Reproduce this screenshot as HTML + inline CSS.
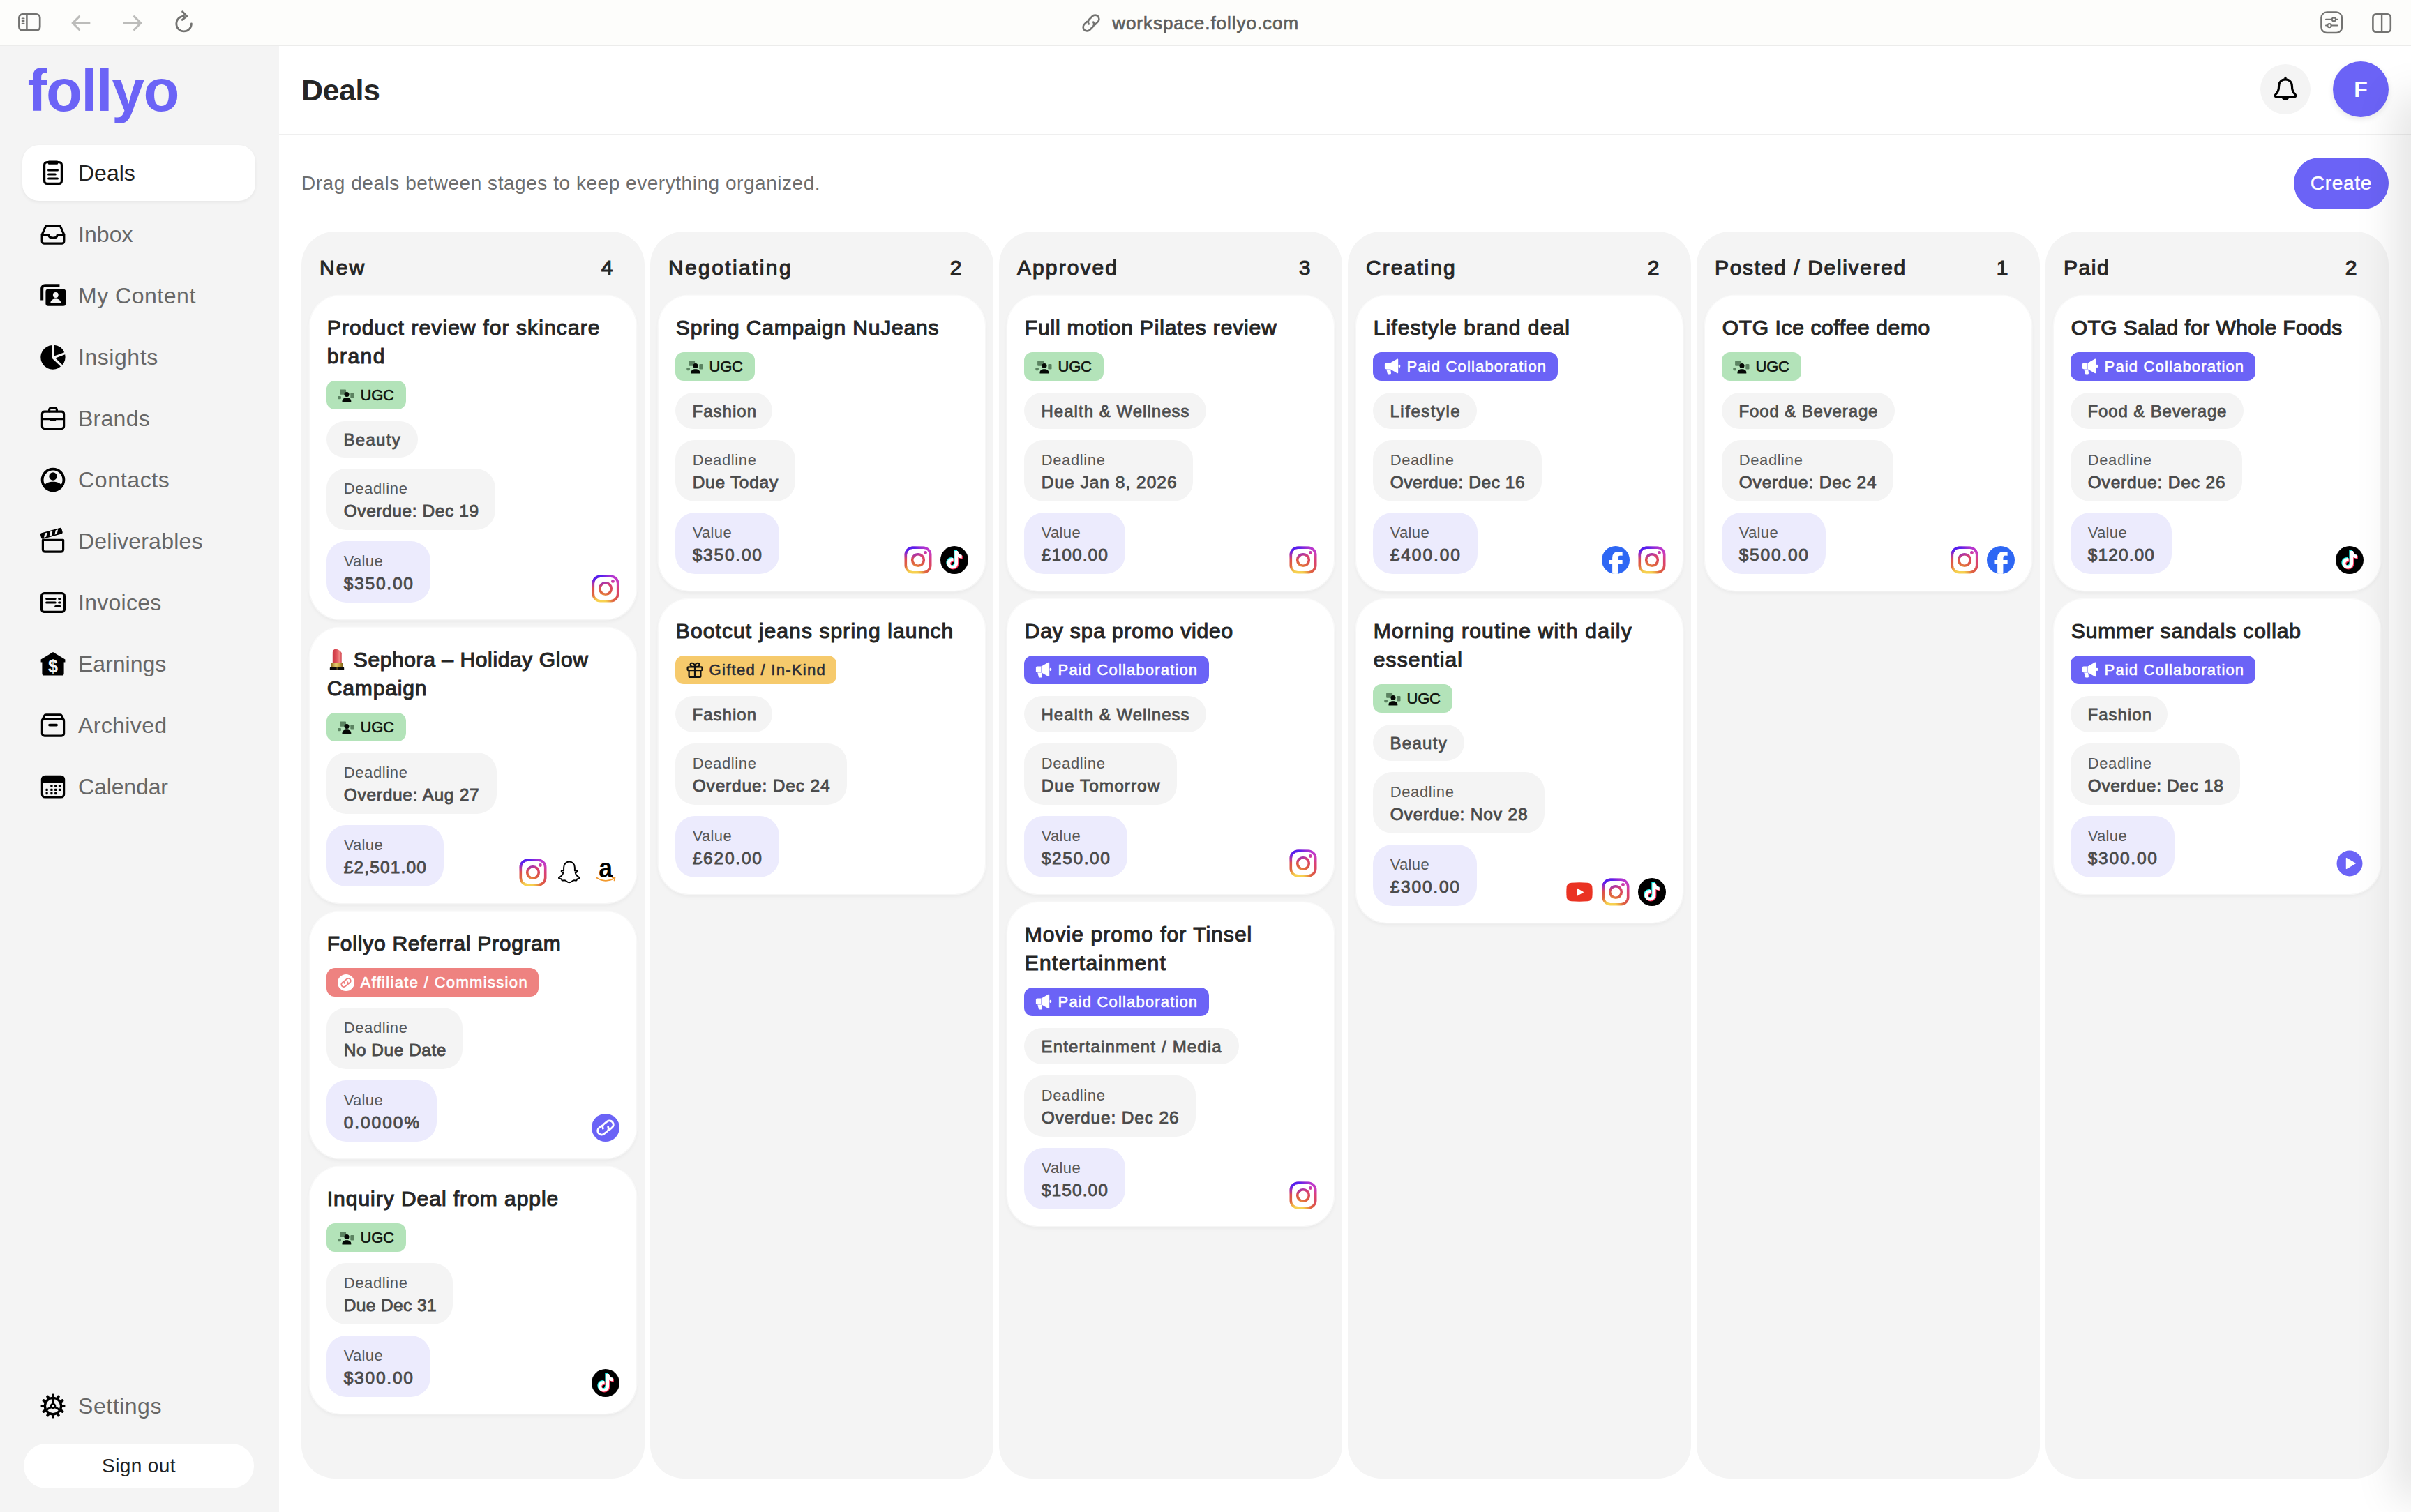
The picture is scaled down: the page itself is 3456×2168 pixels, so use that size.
<!DOCTYPE html>
<html lang="en"><head><meta charset="utf-8"><title>Deals - follyo</title>
<meta name="viewport" content="width=3456">
<style>
*{box-sizing:border-box;margin:0;padding:0}
html,body{width:3456px;height:2168px;overflow:hidden;background:#fff}
body{font-family:'Liberation Sans',sans-serif;color:#262626;position:relative;-webkit-font-smoothing:antialiased}
#root{position:absolute;left:0;top:0;width:3456px;height:2168px;overflow:hidden;background:#fff;transform-origin:0 0}
span{white-space:pre}
.abs{position:absolute}
.toolbar{position:absolute;left:0;top:0;width:3456px;height:66px;background:#fdfdfb;border-bottom:2px solid #ececeb}
.toolbar svg{position:absolute}
.url{position:absolute;left:1594.2px;top:15px;height:36px;line-height:36px;font-size:26px;color:#5e5e5c;font-weight:normal;-webkit-text-stroke:0.7px #5e5e5c}
.side{position:absolute;left:0;top:66px;width:400px;height:2102px;background:#f4f4f4}
.logo{position:absolute;left:39.5px;top:4px;height:120px;line-height:120px;font-size:85px;font-weight:bold;color:#6b63f6}
.nav{position:absolute;left:32px;width:334px;height:80px;border-radius:24px}
.nav.on{background:#fff;box-shadow:0 2px 5px rgba(0,0,0,.06)}
.nav svg{position:absolute;left:20px;top:16px}
.nav .t{position:absolute;left:80px;top:0;height:80px;line-height:80px;font-size:32px;color:#676767}
.nav.on .t{color:#222}
.signout{position:absolute;left:34px;top:2004px;width:330px;height:64px;border-radius:32px;background:#fff;text-align:center;line-height:64px;font-size:28px;color:#222}
.main{position:absolute;left:400px;top:66px;width:3056px;height:2102px;background:#fff}
.head{position:absolute;left:0;top:0;width:3056px;height:128px;border-bottom:2px solid #efefef}
.h1{position:absolute;left:32px;top:30px;height:66px;line-height:66px;font-size:43px;font-weight:bold;color:#262626}
.bellb{position:absolute;left:2840px;top:26px;width:72px;height:72px;border-radius:50%;background:#f4f4f4}
.bellb svg{position:absolute;left:16px;top:16px}
.avatar{position:absolute;left:2944px;top:22px;width:80px;height:80px;border-radius:50%;background:#6b63f6;color:#fff;text-align:center;line-height:80px;font-size:32px;font-weight:bold;box-shadow:0 3px 8px rgba(0,0,0,.09)}
.sub{position:absolute;left:32px;top:176px;height:42px;line-height:42px;font-size:28px;color:#6e6e6e}
.create{position:absolute;left:2888px;top:160px;width:136px;height:74px;border-radius:37px;background:#6b63f6;color:#fff;text-align:center;line-height:74px;font-size:28px;-webkit-text-stroke:0.4px #fff}
.col{position:absolute;top:266px;width:492px;height:1788px;background:#f4f4f4;border-radius:48px}
.ch{position:absolute;left:26px;top:31px;height:42px;line-height:42px;font-size:30px;font-weight:normal;-webkit-text-stroke:1.1px #262626;color:#262626}
.cn{position:absolute;right:26px;top:31px;width:56px;text-align:center;height:42px;line-height:42px;font-size:30px;font-weight:normal;-webkit-text-stroke:1.1px #262626;color:#262626}
.cards{position:absolute;left:12px;top:92px;width:468px}
.card{position:relative;width:468px;background:#fff;border-radius:44px;padding:24px;margin-bottom:12px;box-shadow:0 0 0 1.5px rgba(255,255,255,.55),0 3px 6px rgba(0,0,0,.055)}
.ti{font-size:30px;font-weight:normal;-webkit-text-stroke:1.1px #262626;line-height:41px;color:#262626;position:relative;top:1px;left:0.8px}
.ti div{height:41px}
.tag{margin-top:16px;height:41px;border-radius:12px;position:relative}
.tag svg{position:absolute;left:16px;top:8.5px}
.tag .t{position:absolute;left:48.6px;top:0;height:41px;line-height:42px;font-size:22px;font-weight:normal}
.pill{margin-top:17px;height:52px;border-radius:26px;background:#f4f4f4;position:relative}
.pill .t{position:absolute;left:24.5px;top:0;height:52px;line-height:53px;font-size:24px;font-weight:normal;-webkit-text-stroke:0.8px #4d4d4d;color:#4d4d4d}
.box{margin-top:16px;height:88px;border-radius:28px;background:#f4f4f4;position:relative}
.box.v{background:#ecebfd}
.box .l{position:absolute;left:24.7px;top:13px;height:32px;line-height:32px;font-size:22px;color:#575757}
.box .d{position:absolute;left:24.7px;top:44px;height:33px;line-height:33px;font-size:24.5px;font-weight:normal;-webkit-text-stroke:0.85px #4a4a4a;color:#4a4a4a}
.soc{position:absolute;right:24px;bottom:24px;height:40px;display:flex;gap:12px}
.edge{position:absolute;left:3456px;top:160px;width:30px;height:1969px;box-shadow:0 0 60px 21px rgba(0,0,0,.115);pointer-events:none}
.emo{display:inline-block;position:relative;width:38px;height:41px;vertical-align:top}
.emo svg{position:absolute;left:0;top:2px}
.emo i{opacity:0;font-style:normal;font-size:1px;position:absolute;left:0;top:0}
</style></head>
<body>
<div id="root">
<div class="toolbar"><svg width="36" height="30" viewBox="0 0 36 30" style="display:block;left:25.7px;top:19.2px"><rect x="1.4" y="1.4" width="29.8" height="23" rx="5" fill="none" stroke="#737371" stroke-width="2.7"/><path d="M12.4 1.6 v22.6" stroke="#737371" stroke-width="2.5"/><path d="M5.6 7.4 h3 M5.6 11 h3 M5.6 14.6 h3" stroke="#737371" stroke-width="1.8" stroke-linecap="round"/></svg><svg width="30" height="24" viewBox="0 0 30 24" style="display:block;left:101px;top:20.9px"><path d="M27 12 H3 M12.6 2.6 L3.2 12 l9.4 9.4" fill="none" stroke="#bcbcba" stroke-width="3" stroke-linecap="round" stroke-linejoin="round"/></svg><svg width="30" height="24" viewBox="0 0 30 24" style="display:block;left:175px;top:20.9px"><path d="M3 12 H27 M17.4 2.6 L26.8 12 l-9.4 9.4" fill="none" stroke="#bcbcba" stroke-width="3" stroke-linecap="round" stroke-linejoin="round"/></svg><svg width="30" height="32" viewBox="0 0 30 32" style="display:block;left:249.4px;top:15.4px"><path d="M14.6 8.2 a10.8 10.8 0 1 0 10.8 10.8" fill="none" stroke="#737371" stroke-width="2.8" stroke-linecap="round"/><path d="M12.6 1.8 l6.2 6.4 l-6.6 5.2" fill="none" stroke="#737371" stroke-width="2.8" stroke-linecap="round" stroke-linejoin="round"/></svg><svg width="30" height="30" viewBox="0 0 30 30" style="display:block;left:1548.5px;top:18.4px"><g fill="none" stroke="#737371" stroke-width="2.6" stroke-linecap="round" transform="rotate(-45 15 15)"><path d="M12.2 9.4 h-5.4 a5.6 5.6 0 0 0 0 11.2 h6 a5.6 5.6 0 0 0 5.5 -4.4"/><path d="M17.8 20.6 h5.4 a5.6 5.6 0 0 0 0 -11.2 h-6 a5.6 5.6 0 0 0 -5.5 4.4"/></g></svg><svg width="34" height="34" viewBox="0 0 34 34" style="display:block;left:3325.6px;top:15.6px"><rect x="1.4" y="1.4" width="29.6" height="29.6" rx="8" fill="none" stroke="#737371" stroke-width="2.4"/><g stroke="#737371" stroke-width="2" fill="#fdfdfb" stroke-linecap="round"><path d="M8 11.8 h16.4 M8 20.6 h16.4"/><circle cx="19.4" cy="11.8" r="2.6"/><circle cx="13" cy="20.6" r="2.6"/></g></svg><svg width="32" height="32" viewBox="0 0 32 32" style="display:block;left:3400px;top:18.6px"><rect x="1.4" y="1.4" width="25.4" height="25.4" rx="4.4" fill="none" stroke="#737371" stroke-width="2.6"/><path d="M14.1 1.6 v25" stroke="#737371" stroke-width="2.4"/></svg><span class="url" style="letter-spacing:0.97px;">workspace.follyo.com</span></div>
<div class="side"><div class="logo"><span style="letter-spacing:-1.75px;">follyo</span></div><div class="nav on" style="top:142px"><svg width="48" height="48" viewBox="0 0 48 48" style="display:block;"><g fill="none" stroke="#000" stroke-width="3.2" stroke-linejoin="round" stroke-linecap="round">
<rect x="11.6" y="8.6" width="24.8" height="30.8" rx="3.6"/>
<path d="M18 7.6 h12 v3.2 h-12 z" fill="#000" stroke-width="2"/>
<path d="M17.6 20 h12.8 M17.6 26 h9.6 M17.6 32 h12.8"/></g></svg><div class="t"><span>Deals</span></div></div><div class="nav" style="top:230px"><svg width="48" height="48" viewBox="0 0 48 48" style="display:block;"><g fill="none" stroke="#000" stroke-width="3.2" stroke-linejoin="round" stroke-linecap="round">
<path d="M8.2 24.4 L13 13.6 a3.2 3.2 0 0 1 2.9 -1.9 h16.2 a3.2 3.2 0 0 1 2.9 1.9 L39.8 24.4 v9.6 a3.2 3.2 0 0 1 -3.2 3.2 h-25.2 a3.2 3.2 0 0 1 -3.2 -3.2 z"/>
<path d="M8.4 24.6 h9.2 c0.6 2.8 3.2 4.6 6.4 4.6 s5.8 -1.8 6.4 -4.6 h9.2"/></g></svg><div class="t"><span style="letter-spacing:0.05px;">Inbox</span></div></div><div class="nav" style="top:318px"><svg width="48" height="48" viewBox="0 0 48 48" style="display:block;"><path d="M8.2 30.4 v-17 a4.2 4.2 0 0 1 4.2 -4.2 h21" fill="none" stroke="#000" stroke-width="4" stroke-linecap="butt"/>
<rect x="13.4" y="14.6" width="28.8" height="24.2" rx="3.6" fill="#000"/>
<circle cx="27.8" cy="23" r="3.9" fill="#f4f4f4"/>
<path d="M20.2 34.6 c0.6 -4.6 3.6 -6.2 7.6 -6.2 s7 1.6 7.6 6.2 z" fill="#f4f4f4"/></svg><div class="t"><span style="letter-spacing:0.52px;">My Content</span></div></div><div class="nav" style="top:406px"><svg width="48" height="48" viewBox="0 0 48 48" style="display:block;"><path d="M22.4 7 a17.4 17.4 0 1 0 12.6 30.6 L22.4 25.4 z" fill="#000"/>
<path d="M25.6 6.8 a17.6 17.6 0 0 1 14.6 10.4 L25.6 22.6 z" fill="#000"/>
<path d="M41.2 20.2 a17.6 17.6 0 0 1 -3.8 15 L27.4 25.4 z" fill="#000"/></svg><div class="t"><span style="letter-spacing:0.55px;">Insights</span></div></div><div class="nav" style="top:494px"><svg width="48" height="48" viewBox="0 0 48 48" style="display:block;"><g fill="none" stroke="#000" stroke-width="3.2" stroke-linejoin="round" stroke-linecap="round">
<rect x="8.4" y="14.2" width="31.2" height="24.4" rx="3.4"/>
<path d="M18.6 13.8 v-2.2 a2.8 2.8 0 0 1 2.8 -2.8 h5.2 a2.8 2.8 0 0 1 2.8 2.8 v2.2"/>
<path d="M8.6 24.8 h30.8" stroke-width="2.8"/>
<path d="M21.4 26 h5.2" stroke-width="3.4"/></g></svg><div class="t"><span style="letter-spacing:0.26px;">Brands</span></div></div><div class="nav" style="top:582px"><svg width="48" height="48" viewBox="0 0 48 48" style="display:block;"><circle cx="24" cy="24" r="15.4" fill="none" stroke="#000" stroke-width="3.8"/>
<circle cx="24" cy="19" r="5.7" fill="#000"/>
<path d="M11.4 32.4 c2.4 -4 7 -5.6 12.6 -5.6 s10.2 1.6 12.6 5.6 a15.6 15.6 0 0 1 -25.2 0 z" fill="#000"/></svg><div class="t"><span style="letter-spacing:0.65px;">Contacts</span></div></div><div class="nav" style="top:670px"><svg width="48" height="48" viewBox="0 0 48 48" style="display:block;"><g fill="none" stroke="#000" stroke-width="3.2" stroke-linejoin="round" stroke-linecap="round">
<path d="M9.4 22.4 h29.2 v13.6 a3.2 3.2 0 0 1 -3.2 3.2 h-22.8 a3.2 3.2 0 0 1 -3.2 -3.2 z"/></g>
<g transform="rotate(-15.5 8.6 20.6)"><rect x="7.6" y="12.2" width="31.6" height="8.8" rx="2.2" fill="#000"/>
<path d="M14.4 13.8 l-3 5.6 h3.4 l3 -5.6 z M22.4 13.8 l-3 5.6 h3.4 l3 -5.6 z M30.4 13.8 l-3 5.6 h3.4 l3 -5.6 z" fill="#f4f4f4"/></g></svg><div class="t"><span style="letter-spacing:0.22px;">Deliverables</span></div></div><div class="nav" style="top:758px"><svg width="48" height="48" viewBox="0 0 48 48" style="display:block;"><g fill="none" stroke="#000" stroke-width="3.2" stroke-linejoin="round" stroke-linecap="round">
<rect x="7.6" y="10.6" width="32.8" height="26.8" rx="3.6"/>
<path d="M14.6 18.6 h12.6 M14.6 24 h12.6 M32.6 18.6 h1.6 M32.6 24 h1.6 M27.6 29.6 h6.6" stroke-width="3"/></g></svg><div class="t"><span style="letter-spacing:0.26px;">Invoices</span></div></div><div class="nav" style="top:846px"><svg width="48" height="48" viewBox="0 0 48 48" style="display:block;"><path d="M6.6 17.6 L24 7 L41.4 17.6 v4 h-1.8 v16.2 a2.8 2.8 0 0 1 -2.8 2.8 h-25.6 a2.8 2.8 0 0 1 -2.8 -2.8 v-16.2 h-1.8 z" fill="#000"/>
<text x="24" y="36.4" text-anchor="middle" font-family="'Liberation Sans',sans-serif" font-weight="bold" font-size="25" fill="#f4f4f4">$</text></svg><div class="t"><span style="letter-spacing:-0.01px;">Earnings</span></div></div><div class="nav" style="top:934px"><svg width="48" height="48" viewBox="0 0 48 48" style="display:block;"><g fill="none" stroke="#000" stroke-width="3.2" stroke-linejoin="round" stroke-linecap="round">
<rect x="8.4" y="14.6" width="31.2" height="24.6" rx="3.4"/>
<path d="M8.6 16.4 L11.6 10.2 a2.6 2.6 0 0 1 2.4 -1.4 h20 a2.6 2.6 0 0 1 2.4 1.4 L39.4 16.4" />
<path d="M19 23.6 h10" stroke-width="3.8"/></g></svg><div class="t"><span style="letter-spacing:0.37px;">Archived</span></div></div><div class="nav" style="top:1022px"><svg width="48" height="48" viewBox="0 0 48 48" style="display:block;"><rect x="8.4" y="9.4" width="31.2" height="29.6" rx="4" fill="none" stroke="#000" stroke-width="3.2"/>
<path d="M8.4 18.6 v-5.2 a4 4 0 0 1 4 -4 h23.2 a4 4 0 0 1 4 4 v5.2 z" fill="#000"/>
<g fill="#000">
<rect x="20.3" y="21.6" width="3.2" height="3.2" rx="0.6"/><rect x="26.1" y="21.6" width="3.2" height="3.2" rx="0.6"/><rect x="31.9" y="21.6" width="3.2" height="3.2" rx="0.6"/>
<rect x="13.5" y="26.8" width="3.2" height="3.2" rx="0.6"/><rect x="20.3" y="26.8" width="3.2" height="3.2" rx="0.6"/><rect x="26.1" y="26.8" width="3.2" height="3.2" rx="0.6"/><rect x="31.9" y="26.8" width="3.2" height="3.2" rx="0.6"/>
<rect x="13.5" y="32" width="3.2" height="3.2" rx="0.6"/><rect x="20.3" y="32" width="3.2" height="3.2" rx="0.6"/><rect x="26.1" y="32" width="3.2" height="3.2" rx="0.6"/>
</g></svg><div class="t"><span style="letter-spacing:-0.13px;">Calendar</span></div></div><div class="nav" style="top:1910px"><svg width="48" height="48" viewBox="0 0 48 48" style="display:block;"><rect x="22" y="6.6" width="4" height="5.4" rx="1.6" fill="#000" transform="rotate(0 24 24)"/><rect x="22" y="6.6" width="4" height="5.4" rx="1.6" fill="#000" transform="rotate(30 24 24)"/><rect x="22" y="6.6" width="4" height="5.4" rx="1.6" fill="#000" transform="rotate(60 24 24)"/><rect x="22" y="6.6" width="4" height="5.4" rx="1.6" fill="#000" transform="rotate(90 24 24)"/><rect x="22" y="6.6" width="4" height="5.4" rx="1.6" fill="#000" transform="rotate(120 24 24)"/><rect x="22" y="6.6" width="4" height="5.4" rx="1.6" fill="#000" transform="rotate(150 24 24)"/><rect x="22" y="6.6" width="4" height="5.4" rx="1.6" fill="#000" transform="rotate(180 24 24)"/><rect x="22" y="6.6" width="4" height="5.4" rx="1.6" fill="#000" transform="rotate(210 24 24)"/><rect x="22" y="6.6" width="4" height="5.4" rx="1.6" fill="#000" transform="rotate(240 24 24)"/><rect x="22" y="6.6" width="4" height="5.4" rx="1.6" fill="#000" transform="rotate(270 24 24)"/><rect x="22" y="6.6" width="4" height="5.4" rx="1.6" fill="#000" transform="rotate(300 24 24)"/><rect x="22" y="6.6" width="4" height="5.4" rx="1.6" fill="#000" transform="rotate(330 24 24)"/>
<circle cx="24" cy="24" r="11.6" fill="none" stroke="#000" stroke-width="3.4"/>
<circle cx="24" cy="24" r="3" fill="none" stroke="#000" stroke-width="2.6"/>
<g stroke="#000" stroke-width="3" stroke-linecap="round"><path d="M24 12.6 V21"/><path d="M33.9 29.7 L26.6 25.5"/><path d="M14.1 29.7 L21.4 25.5"/></g></svg><div class="t"><span style="letter-spacing:0.54px;">Settings</span></div></div><div class="signout"><span style="letter-spacing:0.38px;">Sign out</span></div></div>
<div class="main"><div class="head"><div class="h1"><span style="letter-spacing:-0.46px;">Deals</span></div><div class="bellb"><svg width="40" height="40" viewBox="0 0 40 40" style="display:block;"><g fill="none" stroke="#000" stroke-width="3.2" stroke-linejoin="round" stroke-linecap="round">
<path d="M20 5.8 c-5.6 0 -9.4 4 -9.4 9.6 c0 5.4 -1.2 9 -4.8 12.2 c-1.3 1.2 -0.8 3 1 3 h26.4 c1.8 0 2.3 -1.8 1 -3 c-3.6 -3.2 -4.8 -6.8 -4.8 -12.2 c0 -5.6 -3.8 -9.6 -9.4 -9.6 z"/>
<path d="M16.2 31.4 a3.9 3.9 0 0 0 7.6 0"/>
<path d="M20 3.4 v2.2"/></g></svg></div><div class="avatar">F</div></div><div class="sub"><span style="letter-spacing:0.54px;">Drag deals between stages to keep everything organized.</span></div><div class="create"><span style="letter-spacing:0.71px;">Create</span></div><div class="col" style="left:32px"><div class="ch"><span style="letter-spacing:2.03px;">New</span></div><div class="cn">4</div><div class="cards"><div class="card"><div class="ti"><div><span style="letter-spacing:1.11px;">Product review for skincare</span></div><div><span style="letter-spacing:1.46px;">brand</span></div></div><div class="tag" style="width:114px;background:#b3e3b9;color:#101410"><svg width="24" height="24" viewBox="0 0 24 24" style="display:block;"><rect x="3.1" y="3.5" width="9" height="7.2" rx="1.2" fill="#5b8361"/><rect x="18.3" y="7.9" width="5.2" height="7.5" rx="1.2" fill="#5b8361"/><rect x="0.3" y="12.9" width="4.6" height="4.3" rx="1.1" fill="#5b8361"/><circle cx="13" cy="10.4" r="3.5" fill="#050805"/><path d="M6.5 21.6 v-1.4 c0 -3.2 2.6 -4.9 6.4 -4.9 s6.4 1.7 6.4 4.9 v1.4 z" fill="#050805"/></svg><div class="t"><span style="letter-spacing:-0.30px;-webkit-text-stroke:0.6px #101410">UGC</span></div></div><div class="pill" style="width:131px"><div class="t"><span style="letter-spacing:1.30px;">Beauty</span></div></div><div class="box" style="width:242px"><div class="l"><span style="letter-spacing:0.63px;">Deadline</span></div><div class="d"><span style="letter-spacing:0.58px;">Overdue: Dec 19</span></div></div><div class="box v" style="width:149px"><div class="l"><span style="letter-spacing:0.33px;">Value</span></div><div class="d"><span style="letter-spacing:1.79px;">$350.00</span></div></div><div class="soc"><svg width="40" height="40" viewBox="0 0 40 40" style="display:block;"><defs><radialGradient id="iga1" gradientUnits="userSpaceOnUse" cx="13" cy="44" r="46"><stop offset="0" stop-color="#ffd84f"/><stop offset="0.2" stop-color="#f5cf50"/><stop offset="0.29" stop-color="#eeaa45"/><stop offset="0.4" stop-color="#e0683f"/><stop offset="0.53" stop-color="#dc5548"/><stop offset="0.67" stop-color="#da4468"/><stop offset="0.77" stop-color="#d8407e"/><stop offset="0.86" stop-color="#cf3cae"/><stop offset="0.98" stop-color="#bf38cc"/></radialGradient><radialGradient id="igb1" gradientUnits="userSpaceOnUse" cx="7" cy="2" r="28" gradientTransform="translate(7 2) scale(1 0.62) translate(-7 -2)"><stop offset="0" stop-color="#4f1ff0"/><stop offset="0.3" stop-color="#5a20ee"/><stop offset="1" stop-color="#8a2ae2" stop-opacity="0"/></radialGradient></defs><rect x="2.3" y="2.3" width="35.4" height="35.4" rx="10.2" fill="none" stroke="url(#iga1)" stroke-width="3.6"/><circle cx="20" cy="20" r="8.3" fill="none" stroke="url(#iga1)" stroke-width="3.6"/><circle cx="30.5" cy="9.5" r="2.4" fill="url(#iga1)"/><rect x="2.3" y="2.3" width="35.4" height="35.4" rx="10.2" fill="none" stroke="url(#igb1)" stroke-width="3.6"/><circle cx="20" cy="20" r="8.3" fill="none" stroke="url(#igb1)" stroke-width="3.6"/><circle cx="30.5" cy="9.5" r="2.4" fill="url(#igb1)"/></svg></div></div><div class="card"><div class="ti"><div><span class="emo"><svg width="30" height="36" viewBox="0 0 30 36" style="display:block;"><defs><linearGradient id="lpr" x1="0" x2="1" y1="0" y2="0"><stop offset="0" stop-color="#c9323f"/><stop offset="0.45" stop-color="#e0545c"/><stop offset="0.78" stop-color="#f08a86"/><stop offset="1" stop-color="#cf3b47"/></linearGradient>
<linearGradient id="lpg" x1="0" x2="1" y1="0" y2="0"><stop offset="0" stop-color="#8a6a1c"/><stop offset="0.4" stop-color="#e8cf74"/><stop offset="0.7" stop-color="#c9a63e"/><stop offset="1" stop-color="#7d5f17"/></linearGradient></defs>
<path d="M7.8 24.2 V8.4 c0 -3.2 2.2 -4.8 5 -4.6 c3.6 0.4 7.9 3.4 7.9 6.4 V24.2 z" fill="url(#lpr)"/>
<rect x="5.8" y="23.8" width="16.4" height="5.8" rx="0.8" fill="url(#lpg)"/>
<path d="M3.8 32.9 v-2.2 c0 -0.9 0.7 -1.5 1.6 -1.5 h17.2 c0.9 0 1.6 0.6 1.6 1.5 v2.2 z" fill="#0c0c0c"/>
<rect x="13.6" y="29.2" width="1" height="3.7" fill="#c9a63e" opacity="0.7"/></svg><i>💄</i></span><span style="letter-spacing:0.60px;">Sephora – Holiday Glow</span></div><div><span style="letter-spacing:0.83px;">Campaign</span></div></div><div class="tag" style="width:114px;background:#b3e3b9;color:#101410"><svg width="24" height="24" viewBox="0 0 24 24" style="display:block;"><rect x="3.1" y="3.5" width="9" height="7.2" rx="1.2" fill="#5b8361"/><rect x="18.3" y="7.9" width="5.2" height="7.5" rx="1.2" fill="#5b8361"/><rect x="0.3" y="12.9" width="4.6" height="4.3" rx="1.1" fill="#5b8361"/><circle cx="13" cy="10.4" r="3.5" fill="#050805"/><path d="M6.5 21.6 v-1.4 c0 -3.2 2.6 -4.9 6.4 -4.9 s6.4 1.7 6.4 4.9 v1.4 z" fill="#050805"/></svg><div class="t"><span style="letter-spacing:-0.30px;-webkit-text-stroke:0.6px #101410">UGC</span></div></div><div class="box" style="width:244px"><div class="l"><span style="letter-spacing:0.63px;">Deadline</span></div><div class="d"><span style="letter-spacing:0.72px;">Overdue: Aug 27</span></div></div><div class="box v" style="width:168px"><div class="l"><span style="letter-spacing:0.33px;">Value</span></div><div class="d"><span style="letter-spacing:1.16px;">£2,501.00</span></div></div><div class="soc"><svg width="40" height="40" viewBox="0 0 40 40" style="display:block;"><defs><radialGradient id="iga2" gradientUnits="userSpaceOnUse" cx="13" cy="44" r="46"><stop offset="0" stop-color="#ffd84f"/><stop offset="0.2" stop-color="#f5cf50"/><stop offset="0.29" stop-color="#eeaa45"/><stop offset="0.4" stop-color="#e0683f"/><stop offset="0.53" stop-color="#dc5548"/><stop offset="0.67" stop-color="#da4468"/><stop offset="0.77" stop-color="#d8407e"/><stop offset="0.86" stop-color="#cf3cae"/><stop offset="0.98" stop-color="#bf38cc"/></radialGradient><radialGradient id="igb2" gradientUnits="userSpaceOnUse" cx="7" cy="2" r="28" gradientTransform="translate(7 2) scale(1 0.62) translate(-7 -2)"><stop offset="0" stop-color="#4f1ff0"/><stop offset="0.3" stop-color="#5a20ee"/><stop offset="1" stop-color="#8a2ae2" stop-opacity="0"/></radialGradient></defs><rect x="2.3" y="2.3" width="35.4" height="35.4" rx="10.2" fill="none" stroke="url(#iga2)" stroke-width="3.6"/><circle cx="20" cy="20" r="8.3" fill="none" stroke="url(#iga2)" stroke-width="3.6"/><circle cx="30.5" cy="9.5" r="2.4" fill="url(#iga2)"/><rect x="2.3" y="2.3" width="35.4" height="35.4" rx="10.2" fill="none" stroke="url(#igb2)" stroke-width="3.6"/><circle cx="20" cy="20" r="8.3" fill="none" stroke="url(#igb2)" stroke-width="3.6"/><circle cx="30.5" cy="9.5" r="2.4" fill="url(#igb2)"/></svg><svg width="40" height="40" viewBox="0 0 40 40" style="display:block;"><g transform="translate(20 20.3) scale(1.04 1.06) translate(-20 -20)"><path d="M20 5.2 c4.6 0 7.6 3.3 7.6 7.8 v4.2 c0.9 0.5 2.1 -0.5 3.0 0.2 c0.9 0.8 -0.2 2.0 -2.2 2.9 c0.7 2.7 2.6 4.9 5.6 6.1 c0.6 0.3 0.6 1.0 0 1.3 c-1.0 0.5 -2.3 0.7 -3.2 0.9 c-0.4 0.6 -0.2 1.5 -0.9 1.9 c-1.1 0.3 -2.5 -0.5 -4.2 0.0 c-1.6 0.6 -3.0 2.7 -5.7 2.7 c-2.7 0 -4.1 -2.1 -5.7 -2.7 c-1.7 -0.5 -3.1 0.3 -4.2 0.0 c-0.7 -0.4 -0.5 -1.3 -0.9 -1.9 c-0.9 -0.2 -2.2 -0.4 -3.2 -0.9 c-0.6 -0.3 -0.6 -1.0 0 -1.3 c3.0 -1.2 4.9 -3.4 5.6 -6.1 c-2.0 -0.9 -3.1 -2.1 -2.2 -2.9 c0.9 -0.7 2.1 0.3 3.0 -0.2 v-4.2 c0 -4.5 3.0 -7.8 7.6 -7.8 z" fill="#fff" stroke="#000" stroke-width="1.9" stroke-linejoin="round"/></g></svg><svg width="40" height="40" viewBox="0 0 40 40" style="display:block;"><text x="0" y="0" transform="translate(10.2 26.8) scale(0.9 1)" font-family="'Liberation Sans',sans-serif" font-weight="bold" font-size="39.5" fill="#000">a</text><path d="M7.2 27.6 c8 5.4 17.6 5.4 25 1" fill="none" stroke="#f29a2e" stroke-width="1.8" stroke-linecap="round"/><path d="M29.6 27.3 l4 0.3 l-1.2 3.8" fill="none" stroke="#f29a2e" stroke-width="1.6" stroke-linecap="round" stroke-linejoin="round"/></svg></div></div><div class="card"><div class="ti"><div><span style="letter-spacing:0.75px;">Follyo Referral Program</span></div></div><div class="tag" style="width:304px;background:#ee8280;color:#ffffff"><svg width="24" height="24" viewBox="0 0 24 24" style="display:block;"><circle cx="12" cy="12" r="12" fill="#fff"/><g fill="none" stroke="#ee8280" stroke-width="1.9" stroke-linecap="round" transform="rotate(-38 12 12)"><path d="M10.4 8.6 h-2.6 a3.4 3.4 0 0 0 0 6.8 h3.2 a3.4 3.4 0 0 0 3.3 -2.6"/><path d="M13.6 15.4 h2.6 a3.4 3.4 0 0 0 0 -6.8 h-3.2 a3.4 3.4 0 0 0 -3.3 2.6"/></g></svg><div class="t"><span style="letter-spacing:1.33px;-webkit-text-stroke:0.6px #ffffff">Affiliate / Commission</span></div></div><div class="box" style="width:194.5px"><div class="l"><span style="letter-spacing:0.63px;">Deadline</span></div><div class="d"><span style="letter-spacing:0.51px;">No Due Date</span></div></div><div class="box v" style="width:158px"><div class="l"><span style="letter-spacing:0.33px;">Value</span></div><div class="d"><span style="letter-spacing:1.95px;">0.0000%</span></div></div><div class="soc"><svg width="40" height="40" viewBox="0 0 40 40" style="display:block;"><circle cx="20" cy="20" r="20" fill="#6b63f6"/><g fill="none" stroke="#fff" stroke-width="2.8" stroke-linecap="round" transform="rotate(-38 20 20)"><path d="M17.4 14.4 h-4.6 a5.6 5.6 0 0 0 0 11.2 h5.4 a5.6 5.6 0 0 0 5.4 -4.2"/><path d="M22.6 25.6 h4.6 a5.6 5.6 0 0 0 0 -11.2 h-5.4 a5.6 5.6 0 0 0 -5.4 4.2"/></g></svg></div></div><div class="card"><div class="ti"><div><span style="letter-spacing:0.97px;">Inquiry Deal from apple</span></div></div><div class="tag" style="width:114px;background:#b3e3b9;color:#101410"><svg width="24" height="24" viewBox="0 0 24 24" style="display:block;"><rect x="3.1" y="3.5" width="9" height="7.2" rx="1.2" fill="#5b8361"/><rect x="18.3" y="7.9" width="5.2" height="7.5" rx="1.2" fill="#5b8361"/><rect x="0.3" y="12.9" width="4.6" height="4.3" rx="1.1" fill="#5b8361"/><circle cx="13" cy="10.4" r="3.5" fill="#050805"/><path d="M6.5 21.6 v-1.4 c0 -3.2 2.6 -4.9 6.4 -4.9 s6.4 1.7 6.4 4.9 v1.4 z" fill="#050805"/></svg><div class="t"><span style="letter-spacing:-0.30px;-webkit-text-stroke:0.6px #101410">UGC</span></div></div><div class="box" style="width:180.6px"><div class="l"><span style="letter-spacing:0.63px;">Deadline</span></div><div class="d"><span style="letter-spacing:0.39px;">Due Dec 31</span></div></div><div class="box v" style="width:149px"><div class="l"><span style="letter-spacing:0.33px;">Value</span></div><div class="d"><span style="letter-spacing:1.79px;">$300.00</span></div></div><div class="soc"><svg width="40" height="40" viewBox="0 0 40 40" style="display:block;"><circle cx="20" cy="20" r="20" fill="#000"/><g transform="translate(20.1 19.7) scale(1.14) translate(-21.3 -20.4)"><path d="M21.6 9.2 h4.1 c0.3 3.0 2.0 4.9 4.9 5.2 v4.0 c-1.8 0 -3.4 -0.5 -4.8 -1.5 v7.6 c0 4.3 -3.1 7.1 -6.9 7.1 c-3.9 0 -6.9 -3.0 -6.9 -6.8 c0 -4.2 3.6 -7.3 7.9 -6.7 v4.2 c-2.0 -0.6 -3.8 0.7 -3.8 2.6 c0 1.6 1.2 2.8 2.8 2.8 c1.7 0 2.8 -1.2 2.8 -3.2 z" fill="#25f4ee" transform="translate(-1.0,-0.85)"/><path d="M21.6 9.2 h4.1 c0.3 3.0 2.0 4.9 4.9 5.2 v4.0 c-1.8 0 -3.4 -0.5 -4.8 -1.5 v7.6 c0 4.3 -3.1 7.1 -6.9 7.1 c-3.9 0 -6.9 -3.0 -6.9 -6.8 c0 -4.2 3.6 -7.3 7.9 -6.7 v4.2 c-2.0 -0.6 -3.8 0.7 -3.8 2.6 c0 1.6 1.2 2.8 2.8 2.8 c1.7 0 2.8 -1.2 2.8 -3.2 z" fill="#fe2c55" transform="translate(1.0,0.85)"/><path d="M21.6 9.2 h4.1 c0.3 3.0 2.0 4.9 4.9 5.2 v4.0 c-1.8 0 -3.4 -0.5 -4.8 -1.5 v7.6 c0 4.3 -3.1 7.1 -6.9 7.1 c-3.9 0 -6.9 -3.0 -6.9 -6.8 c0 -4.2 3.6 -7.3 7.9 -6.7 v4.2 c-2.0 -0.6 -3.8 0.7 -3.8 2.6 c0 1.6 1.2 2.8 2.8 2.8 c1.7 0 2.8 -1.2 2.8 -3.2 z" fill="#fff"/></g></svg></div></div></div></div><div class="col" style="left:532px"><div class="ch"><span style="letter-spacing:2.38px;">Negotiating</span></div><div class="cn">2</div><div class="cards"><div class="card"><div class="ti"><div><span style="letter-spacing:0.83px;">Spring Campaign NuJeans</span></div></div><div class="tag" style="width:114px;background:#b3e3b9;color:#101410"><svg width="24" height="24" viewBox="0 0 24 24" style="display:block;"><rect x="3.1" y="3.5" width="9" height="7.2" rx="1.2" fill="#5b8361"/><rect x="18.3" y="7.9" width="5.2" height="7.5" rx="1.2" fill="#5b8361"/><rect x="0.3" y="12.9" width="4.6" height="4.3" rx="1.1" fill="#5b8361"/><circle cx="13" cy="10.4" r="3.5" fill="#050805"/><path d="M6.5 21.6 v-1.4 c0 -3.2 2.6 -4.9 6.4 -4.9 s6.4 1.7 6.4 4.9 v1.4 z" fill="#050805"/></svg><div class="t"><span style="letter-spacing:-0.30px;-webkit-text-stroke:0.6px #101410">UGC</span></div></div><div class="pill" style="width:139px"><div class="t"><span style="letter-spacing:1.03px;">Fashion</span></div></div><div class="box" style="width:172px"><div class="l"><span style="letter-spacing:0.63px;">Deadline</span></div><div class="d"><span style="letter-spacing:0.72px;">Due Today</span></div></div><div class="box v" style="width:149px"><div class="l"><span style="letter-spacing:0.33px;">Value</span></div><div class="d"><span style="letter-spacing:1.79px;">$350.00</span></div></div><div class="soc"><svg width="40" height="40" viewBox="0 0 40 40" style="display:block;"><defs><radialGradient id="iga7" gradientUnits="userSpaceOnUse" cx="13" cy="44" r="46"><stop offset="0" stop-color="#ffd84f"/><stop offset="0.2" stop-color="#f5cf50"/><stop offset="0.29" stop-color="#eeaa45"/><stop offset="0.4" stop-color="#e0683f"/><stop offset="0.53" stop-color="#dc5548"/><stop offset="0.67" stop-color="#da4468"/><stop offset="0.77" stop-color="#d8407e"/><stop offset="0.86" stop-color="#cf3cae"/><stop offset="0.98" stop-color="#bf38cc"/></radialGradient><radialGradient id="igb7" gradientUnits="userSpaceOnUse" cx="7" cy="2" r="28" gradientTransform="translate(7 2) scale(1 0.62) translate(-7 -2)"><stop offset="0" stop-color="#4f1ff0"/><stop offset="0.3" stop-color="#5a20ee"/><stop offset="1" stop-color="#8a2ae2" stop-opacity="0"/></radialGradient></defs><rect x="2.3" y="2.3" width="35.4" height="35.4" rx="10.2" fill="none" stroke="url(#iga7)" stroke-width="3.6"/><circle cx="20" cy="20" r="8.3" fill="none" stroke="url(#iga7)" stroke-width="3.6"/><circle cx="30.5" cy="9.5" r="2.4" fill="url(#iga7)"/><rect x="2.3" y="2.3" width="35.4" height="35.4" rx="10.2" fill="none" stroke="url(#igb7)" stroke-width="3.6"/><circle cx="20" cy="20" r="8.3" fill="none" stroke="url(#igb7)" stroke-width="3.6"/><circle cx="30.5" cy="9.5" r="2.4" fill="url(#igb7)"/></svg><svg width="40" height="40" viewBox="0 0 40 40" style="display:block;"><circle cx="20" cy="20" r="20" fill="#000"/><g transform="translate(20.1 19.7) scale(1.14) translate(-21.3 -20.4)"><path d="M21.6 9.2 h4.1 c0.3 3.0 2.0 4.9 4.9 5.2 v4.0 c-1.8 0 -3.4 -0.5 -4.8 -1.5 v7.6 c0 4.3 -3.1 7.1 -6.9 7.1 c-3.9 0 -6.9 -3.0 -6.9 -6.8 c0 -4.2 3.6 -7.3 7.9 -6.7 v4.2 c-2.0 -0.6 -3.8 0.7 -3.8 2.6 c0 1.6 1.2 2.8 2.8 2.8 c1.7 0 2.8 -1.2 2.8 -3.2 z" fill="#25f4ee" transform="translate(-1.0,-0.85)"/><path d="M21.6 9.2 h4.1 c0.3 3.0 2.0 4.9 4.9 5.2 v4.0 c-1.8 0 -3.4 -0.5 -4.8 -1.5 v7.6 c0 4.3 -3.1 7.1 -6.9 7.1 c-3.9 0 -6.9 -3.0 -6.9 -6.8 c0 -4.2 3.6 -7.3 7.9 -6.7 v4.2 c-2.0 -0.6 -3.8 0.7 -3.8 2.6 c0 1.6 1.2 2.8 2.8 2.8 c1.7 0 2.8 -1.2 2.8 -3.2 z" fill="#fe2c55" transform="translate(1.0,0.85)"/><path d="M21.6 9.2 h4.1 c0.3 3.0 2.0 4.9 4.9 5.2 v4.0 c-1.8 0 -3.4 -0.5 -4.8 -1.5 v7.6 c0 4.3 -3.1 7.1 -6.9 7.1 c-3.9 0 -6.9 -3.0 -6.9 -6.8 c0 -4.2 3.6 -7.3 7.9 -6.7 v4.2 c-2.0 -0.6 -3.8 0.7 -3.8 2.6 c0 1.6 1.2 2.8 2.8 2.8 c1.7 0 2.8 -1.2 2.8 -3.2 z" fill="#fff"/></g></svg></div></div><div class="card"><div class="ti"><div><span style="letter-spacing:1.11px;">Bootcut jeans spring launch</span></div></div><div class="tag" style="width:231px;background:#f6ca6c;color:#2a2c36"><svg width="24" height="24" viewBox="0 0 24 24" style="display:block;"><g fill="none" stroke="#111" stroke-width="2.2" stroke-linejoin="round" stroke-linecap="round"><rect x="1.6" y="7.4" width="20.8" height="4.8" rx="1.2"/><path d="M3.6 12.2 v8.2 a1.6 1.6 0 0 0 1.6 1.6 h13.6 a1.6 1.6 0 0 0 1.6 -1.6 v-8.2"/><path d="M12 7.2 v14.8"/><path d="M12 7 c-0.6 -7 -8 -6.4 -6.2 -1.8 c0.8 1.6 3.4 1.8 6.2 1.8 c2.8 0 5.4 -0.2 6.2 -1.8 c1.8 -4.6 -5.6 -5.2 -6.2 1.8"/></g></svg><div class="t"><span style="letter-spacing:1.30px;-webkit-text-stroke:0.6px #2a2c36">Gifted / In-Kind</span></div></div><div class="pill" style="width:139px"><div class="t"><span style="letter-spacing:1.03px;">Fashion</span></div></div><div class="box" style="width:245.6px"><div class="l"><span style="letter-spacing:0.63px;">Deadline</span></div><div class="d"><span style="letter-spacing:0.83px;">Overdue: Dec 24</span></div></div><div class="box v" style="width:149px"><div class="l"><span style="letter-spacing:0.33px;">Value</span></div><div class="d"><span style="letter-spacing:1.79px;">£620.00</span></div></div></div></div></div><div class="col" style="left:1032px"><div class="ch"><span style="letter-spacing:2.09px;">Approved</span></div><div class="cn">3</div><div class="cards"><div class="card"><div class="ti"><div><span style="letter-spacing:0.83px;">Full motion Pilates review</span></div></div><div class="tag" style="width:114px;background:#b3e3b9;color:#101410"><svg width="24" height="24" viewBox="0 0 24 24" style="display:block;"><rect x="3.1" y="3.5" width="9" height="7.2" rx="1.2" fill="#5b8361"/><rect x="18.3" y="7.9" width="5.2" height="7.5" rx="1.2" fill="#5b8361"/><rect x="0.3" y="12.9" width="4.6" height="4.3" rx="1.1" fill="#5b8361"/><circle cx="13" cy="10.4" r="3.5" fill="#050805"/><path d="M6.5 21.6 v-1.4 c0 -3.2 2.6 -4.9 6.4 -4.9 s6.4 1.7 6.4 4.9 v1.4 z" fill="#050805"/></svg><div class="t"><span style="letter-spacing:-0.30px;-webkit-text-stroke:0.6px #101410">UGC</span></div></div><div class="pill" style="width:261px"><div class="t"><span style="letter-spacing:1.03px;">Health &amp; Wellness</span></div></div><div class="box" style="width:241.7px"><div class="l"><span style="letter-spacing:0.63px;">Deadline</span></div><div class="d"><span style="letter-spacing:1.01px;">Due Jan 8, 2026</span></div></div><div class="box v" style="width:145px"><div class="l"><span style="letter-spacing:0.33px;">Value</span></div><div class="d"><span style="letter-spacing:1.12px;">£100.00</span></div></div><div class="soc"><svg width="40" height="40" viewBox="0 0 40 40" style="display:block;"><defs><radialGradient id="iga9" gradientUnits="userSpaceOnUse" cx="13" cy="44" r="46"><stop offset="0" stop-color="#ffd84f"/><stop offset="0.2" stop-color="#f5cf50"/><stop offset="0.29" stop-color="#eeaa45"/><stop offset="0.4" stop-color="#e0683f"/><stop offset="0.53" stop-color="#dc5548"/><stop offset="0.67" stop-color="#da4468"/><stop offset="0.77" stop-color="#d8407e"/><stop offset="0.86" stop-color="#cf3cae"/><stop offset="0.98" stop-color="#bf38cc"/></radialGradient><radialGradient id="igb9" gradientUnits="userSpaceOnUse" cx="7" cy="2" r="28" gradientTransform="translate(7 2) scale(1 0.62) translate(-7 -2)"><stop offset="0" stop-color="#4f1ff0"/><stop offset="0.3" stop-color="#5a20ee"/><stop offset="1" stop-color="#8a2ae2" stop-opacity="0"/></radialGradient></defs><rect x="2.3" y="2.3" width="35.4" height="35.4" rx="10.2" fill="none" stroke="url(#iga9)" stroke-width="3.6"/><circle cx="20" cy="20" r="8.3" fill="none" stroke="url(#iga9)" stroke-width="3.6"/><circle cx="30.5" cy="9.5" r="2.4" fill="url(#iga9)"/><rect x="2.3" y="2.3" width="35.4" height="35.4" rx="10.2" fill="none" stroke="url(#igb9)" stroke-width="3.6"/><circle cx="20" cy="20" r="8.3" fill="none" stroke="url(#igb9)" stroke-width="3.6"/><circle cx="30.5" cy="9.5" r="2.4" fill="url(#igb9)"/></svg></div></div><div class="card"><div class="ti"><div><span style="letter-spacing:0.83px;">Day spa promo video</span></div></div><div class="tag" style="width:265px;background:#6b63f6;color:#ffffff"><svg width="24" height="24" viewBox="0 0 24 24" style="display:block;"><rect x="0.9" y="6.6" width="8.6" height="8.6" rx="1.8" fill="#fff"/><path d="M8.2 6.7 L18.6 0.7 q1.6 -0.8 1.6 1 V20 q0 1.8 -1.6 1 L8.2 15.1 z" fill="#fff"/><path d="M8.5 6.6 v8.6" stroke="#6b63f6" stroke-width="0.9" opacity="0.55"/><rect x="20.6" y="8.7" width="2.6" height="4.4" rx="1.3" fill="#fff"/><path d="M3.4 15.6 h5.8 l0.8 5.4 q0.2 1.4 -1.2 1.4 h-2.6 q-1.2 0 -1.5 -1.2 z" fill="#fff"/></svg><div class="t"><span style="letter-spacing:1.16px;-webkit-text-stroke:0.6px #ffffff">Paid Collaboration</span></div></div><div class="pill" style="width:261px"><div class="t"><span style="letter-spacing:1.03px;">Health &amp; Wellness</span></div></div><div class="box" style="width:218.7px"><div class="l"><span style="letter-spacing:0.63px;">Deadline</span></div><div class="d"><span style="letter-spacing:0.98px;">Due Tomorrow</span></div></div><div class="box v" style="width:148px"><div class="l"><span style="letter-spacing:0.33px;">Value</span></div><div class="d"><span style="letter-spacing:1.62px;">$250.00</span></div></div><div class="soc"><svg width="40" height="40" viewBox="0 0 40 40" style="display:block;"><defs><radialGradient id="iga10" gradientUnits="userSpaceOnUse" cx="13" cy="44" r="46"><stop offset="0" stop-color="#ffd84f"/><stop offset="0.2" stop-color="#f5cf50"/><stop offset="0.29" stop-color="#eeaa45"/><stop offset="0.4" stop-color="#e0683f"/><stop offset="0.53" stop-color="#dc5548"/><stop offset="0.67" stop-color="#da4468"/><stop offset="0.77" stop-color="#d8407e"/><stop offset="0.86" stop-color="#cf3cae"/><stop offset="0.98" stop-color="#bf38cc"/></radialGradient><radialGradient id="igb10" gradientUnits="userSpaceOnUse" cx="7" cy="2" r="28" gradientTransform="translate(7 2) scale(1 0.62) translate(-7 -2)"><stop offset="0" stop-color="#4f1ff0"/><stop offset="0.3" stop-color="#5a20ee"/><stop offset="1" stop-color="#8a2ae2" stop-opacity="0"/></radialGradient></defs><rect x="2.3" y="2.3" width="35.4" height="35.4" rx="10.2" fill="none" stroke="url(#iga10)" stroke-width="3.6"/><circle cx="20" cy="20" r="8.3" fill="none" stroke="url(#iga10)" stroke-width="3.6"/><circle cx="30.5" cy="9.5" r="2.4" fill="url(#iga10)"/><rect x="2.3" y="2.3" width="35.4" height="35.4" rx="10.2" fill="none" stroke="url(#igb10)" stroke-width="3.6"/><circle cx="20" cy="20" r="8.3" fill="none" stroke="url(#igb10)" stroke-width="3.6"/><circle cx="30.5" cy="9.5" r="2.4" fill="url(#igb10)"/></svg></div></div><div class="card"><div class="ti"><div><span style="letter-spacing:1.05px;">Movie promo for Tinsel</span></div><div><span style="letter-spacing:1.27px;">Entertainment</span></div></div><div class="tag" style="width:265px;background:#6b63f6;color:#ffffff"><svg width="24" height="24" viewBox="0 0 24 24" style="display:block;"><rect x="0.9" y="6.6" width="8.6" height="8.6" rx="1.8" fill="#fff"/><path d="M8.2 6.7 L18.6 0.7 q1.6 -0.8 1.6 1 V20 q0 1.8 -1.6 1 L8.2 15.1 z" fill="#fff"/><path d="M8.5 6.6 v8.6" stroke="#6b63f6" stroke-width="0.9" opacity="0.55"/><rect x="20.6" y="8.7" width="2.6" height="4.4" rx="1.3" fill="#fff"/><path d="M3.4 15.6 h5.8 l0.8 5.4 q0.2 1.4 -1.2 1.4 h-2.6 q-1.2 0 -1.5 -1.2 z" fill="#fff"/></svg><div class="t"><span style="letter-spacing:1.16px;-webkit-text-stroke:0.6px #ffffff">Paid Collaboration</span></div></div><div class="pill" style="width:308px"><div class="t"><span style="letter-spacing:1.17px;">Entertainment / Media</span></div></div><div class="box" style="width:245.6px"><div class="l"><span style="letter-spacing:0.63px;">Deadline</span></div><div class="d"><span style="letter-spacing:0.83px;">Overdue: Dec 26</span></div></div><div class="box v" style="width:145px"><div class="l"><span style="letter-spacing:0.33px;">Value</span></div><div class="d"><span style="letter-spacing:1.12px;">$150.00</span></div></div><div class="soc"><svg width="40" height="40" viewBox="0 0 40 40" style="display:block;"><defs><radialGradient id="iga11" gradientUnits="userSpaceOnUse" cx="13" cy="44" r="46"><stop offset="0" stop-color="#ffd84f"/><stop offset="0.2" stop-color="#f5cf50"/><stop offset="0.29" stop-color="#eeaa45"/><stop offset="0.4" stop-color="#e0683f"/><stop offset="0.53" stop-color="#dc5548"/><stop offset="0.67" stop-color="#da4468"/><stop offset="0.77" stop-color="#d8407e"/><stop offset="0.86" stop-color="#cf3cae"/><stop offset="0.98" stop-color="#bf38cc"/></radialGradient><radialGradient id="igb11" gradientUnits="userSpaceOnUse" cx="7" cy="2" r="28" gradientTransform="translate(7 2) scale(1 0.62) translate(-7 -2)"><stop offset="0" stop-color="#4f1ff0"/><stop offset="0.3" stop-color="#5a20ee"/><stop offset="1" stop-color="#8a2ae2" stop-opacity="0"/></radialGradient></defs><rect x="2.3" y="2.3" width="35.4" height="35.4" rx="10.2" fill="none" stroke="url(#iga11)" stroke-width="3.6"/><circle cx="20" cy="20" r="8.3" fill="none" stroke="url(#iga11)" stroke-width="3.6"/><circle cx="30.5" cy="9.5" r="2.4" fill="url(#iga11)"/><rect x="2.3" y="2.3" width="35.4" height="35.4" rx="10.2" fill="none" stroke="url(#igb11)" stroke-width="3.6"/><circle cx="20" cy="20" r="8.3" fill="none" stroke="url(#igb11)" stroke-width="3.6"/><circle cx="30.5" cy="9.5" r="2.4" fill="url(#igb11)"/></svg></div></div></div></div><div class="col" style="left:1532px"><div class="ch"><span style="letter-spacing:2.03px;">Creating</span></div><div class="cn">2</div><div class="cards"><div class="card"><div class="ti"><div><span style="letter-spacing:1.10px;">Lifestyle brand deal</span></div></div><div class="tag" style="width:265px;background:#6b63f6;color:#ffffff"><svg width="24" height="24" viewBox="0 0 24 24" style="display:block;"><rect x="0.9" y="6.6" width="8.6" height="8.6" rx="1.8" fill="#fff"/><path d="M8.2 6.7 L18.6 0.7 q1.6 -0.8 1.6 1 V20 q0 1.8 -1.6 1 L8.2 15.1 z" fill="#fff"/><path d="M8.5 6.6 v8.6" stroke="#6b63f6" stroke-width="0.9" opacity="0.55"/><rect x="20.6" y="8.7" width="2.6" height="4.4" rx="1.3" fill="#fff"/><path d="M3.4 15.6 h5.8 l0.8 5.4 q0.2 1.4 -1.2 1.4 h-2.6 q-1.2 0 -1.5 -1.2 z" fill="#fff"/></svg><div class="t"><span style="letter-spacing:1.16px;-webkit-text-stroke:0.6px #ffffff">Paid Collaboration</span></div></div><div class="pill" style="width:149px"><div class="t"><span style="letter-spacing:1.51px;">Lifestyle</span></div></div><div class="box" style="width:241.7px"><div class="l"><span style="letter-spacing:0.63px;">Deadline</span></div><div class="d"><span style="letter-spacing:0.55px;">Overdue: Dec 16</span></div></div><div class="box v" style="width:150px"><div class="l"><span style="letter-spacing:0.33px;">Value</span></div><div class="d"><span style="letter-spacing:1.95px;">£400.00</span></div></div><div class="soc"><svg width="40" height="40" viewBox="0 0 40 40" style="display:block;"><defs><clipPath id="fbc12"><circle cx="20" cy="20" r="20"/></clipPath></defs><circle cx="20" cy="20" r="20" fill="#2e67f4"/><g clip-path="url(#fbc12)"><text x="9.6" y="51.3" font-family="'Liberation Sans',sans-serif" font-weight="bold" font-size="60" fill="#fff">f</text></g></svg><svg width="40" height="40" viewBox="0 0 40 40" style="display:block;"><defs><radialGradient id="iga13" gradientUnits="userSpaceOnUse" cx="13" cy="44" r="46"><stop offset="0" stop-color="#ffd84f"/><stop offset="0.2" stop-color="#f5cf50"/><stop offset="0.29" stop-color="#eeaa45"/><stop offset="0.4" stop-color="#e0683f"/><stop offset="0.53" stop-color="#dc5548"/><stop offset="0.67" stop-color="#da4468"/><stop offset="0.77" stop-color="#d8407e"/><stop offset="0.86" stop-color="#cf3cae"/><stop offset="0.98" stop-color="#bf38cc"/></radialGradient><radialGradient id="igb13" gradientUnits="userSpaceOnUse" cx="7" cy="2" r="28" gradientTransform="translate(7 2) scale(1 0.62) translate(-7 -2)"><stop offset="0" stop-color="#4f1ff0"/><stop offset="0.3" stop-color="#5a20ee"/><stop offset="1" stop-color="#8a2ae2" stop-opacity="0"/></radialGradient></defs><rect x="2.3" y="2.3" width="35.4" height="35.4" rx="10.2" fill="none" stroke="url(#iga13)" stroke-width="3.6"/><circle cx="20" cy="20" r="8.3" fill="none" stroke="url(#iga13)" stroke-width="3.6"/><circle cx="30.5" cy="9.5" r="2.4" fill="url(#iga13)"/><rect x="2.3" y="2.3" width="35.4" height="35.4" rx="10.2" fill="none" stroke="url(#igb13)" stroke-width="3.6"/><circle cx="20" cy="20" r="8.3" fill="none" stroke="url(#igb13)" stroke-width="3.6"/><circle cx="30.5" cy="9.5" r="2.4" fill="url(#igb13)"/></svg></div></div><div class="card"><div class="ti"><div><span style="letter-spacing:1.19px;">Morning routine with daily</span></div><div><span style="letter-spacing:1.10px;">essential</span></div></div><div class="tag" style="width:114px;background:#b3e3b9;color:#101410"><svg width="24" height="24" viewBox="0 0 24 24" style="display:block;"><rect x="3.1" y="3.5" width="9" height="7.2" rx="1.2" fill="#5b8361"/><rect x="18.3" y="7.9" width="5.2" height="7.5" rx="1.2" fill="#5b8361"/><rect x="0.3" y="12.9" width="4.6" height="4.3" rx="1.1" fill="#5b8361"/><circle cx="13" cy="10.4" r="3.5" fill="#050805"/><path d="M6.5 21.6 v-1.4 c0 -3.2 2.6 -4.9 6.4 -4.9 s6.4 1.7 6.4 4.9 v1.4 z" fill="#050805"/></svg><div class="t"><span style="letter-spacing:-0.30px;-webkit-text-stroke:0.6px #101410">UGC</span></div></div><div class="pill" style="width:131px"><div class="t"><span style="letter-spacing:1.30px;">Beauty</span></div></div><div class="box" style="width:245.6px"><div class="l"><span style="letter-spacing:0.63px;">Deadline</span></div><div class="d"><span style="letter-spacing:0.83px;">Overdue: Nov 28</span></div></div><div class="box v" style="width:149px"><div class="l"><span style="letter-spacing:0.33px;">Value</span></div><div class="d"><span style="letter-spacing:1.79px;">£300.00</span></div></div><div class="soc"><svg width="40" height="40" viewBox="0 0 40 40" style="display:block;"><path d="M8.4 6.7 Q20 5.9 31.6 6.7 Q37.6 7.2 38.3 12.6 Q39.1 20 38.3 27.4 Q37.6 32.8 31.6 33.3 Q20 34.1 8.4 33.3 Q2.4 32.8 1.7 27.4 Q0.9 20 1.7 12.6 Q2.4 7.2 8.4 6.7 Z" fill="#ea3323"/><path d="M16.3 14.3 L26.4 20.2 L16.3 26.1 Z" fill="#fff"/></svg><svg width="40" height="40" viewBox="0 0 40 40" style="display:block;"><defs><radialGradient id="iga15" gradientUnits="userSpaceOnUse" cx="13" cy="44" r="46"><stop offset="0" stop-color="#ffd84f"/><stop offset="0.2" stop-color="#f5cf50"/><stop offset="0.29" stop-color="#eeaa45"/><stop offset="0.4" stop-color="#e0683f"/><stop offset="0.53" stop-color="#dc5548"/><stop offset="0.67" stop-color="#da4468"/><stop offset="0.77" stop-color="#d8407e"/><stop offset="0.86" stop-color="#cf3cae"/><stop offset="0.98" stop-color="#bf38cc"/></radialGradient><radialGradient id="igb15" gradientUnits="userSpaceOnUse" cx="7" cy="2" r="28" gradientTransform="translate(7 2) scale(1 0.62) translate(-7 -2)"><stop offset="0" stop-color="#4f1ff0"/><stop offset="0.3" stop-color="#5a20ee"/><stop offset="1" stop-color="#8a2ae2" stop-opacity="0"/></radialGradient></defs><rect x="2.3" y="2.3" width="35.4" height="35.4" rx="10.2" fill="none" stroke="url(#iga15)" stroke-width="3.6"/><circle cx="20" cy="20" r="8.3" fill="none" stroke="url(#iga15)" stroke-width="3.6"/><circle cx="30.5" cy="9.5" r="2.4" fill="url(#iga15)"/><rect x="2.3" y="2.3" width="35.4" height="35.4" rx="10.2" fill="none" stroke="url(#igb15)" stroke-width="3.6"/><circle cx="20" cy="20" r="8.3" fill="none" stroke="url(#igb15)" stroke-width="3.6"/><circle cx="30.5" cy="9.5" r="2.4" fill="url(#igb15)"/></svg><svg width="40" height="40" viewBox="0 0 40 40" style="display:block;"><circle cx="20" cy="20" r="20" fill="#000"/><g transform="translate(20.1 19.7) scale(1.14) translate(-21.3 -20.4)"><path d="M21.6 9.2 h4.1 c0.3 3.0 2.0 4.9 4.9 5.2 v4.0 c-1.8 0 -3.4 -0.5 -4.8 -1.5 v7.6 c0 4.3 -3.1 7.1 -6.9 7.1 c-3.9 0 -6.9 -3.0 -6.9 -6.8 c0 -4.2 3.6 -7.3 7.9 -6.7 v4.2 c-2.0 -0.6 -3.8 0.7 -3.8 2.6 c0 1.6 1.2 2.8 2.8 2.8 c1.7 0 2.8 -1.2 2.8 -3.2 z" fill="#25f4ee" transform="translate(-1.0,-0.85)"/><path d="M21.6 9.2 h4.1 c0.3 3.0 2.0 4.9 4.9 5.2 v4.0 c-1.8 0 -3.4 -0.5 -4.8 -1.5 v7.6 c0 4.3 -3.1 7.1 -6.9 7.1 c-3.9 0 -6.9 -3.0 -6.9 -6.8 c0 -4.2 3.6 -7.3 7.9 -6.7 v4.2 c-2.0 -0.6 -3.8 0.7 -3.8 2.6 c0 1.6 1.2 2.8 2.8 2.8 c1.7 0 2.8 -1.2 2.8 -3.2 z" fill="#fe2c55" transform="translate(1.0,0.85)"/><path d="M21.6 9.2 h4.1 c0.3 3.0 2.0 4.9 4.9 5.2 v4.0 c-1.8 0 -3.4 -0.5 -4.8 -1.5 v7.6 c0 4.3 -3.1 7.1 -6.9 7.1 c-3.9 0 -6.9 -3.0 -6.9 -6.8 c0 -4.2 3.6 -7.3 7.9 -6.7 v4.2 c-2.0 -0.6 -3.8 0.7 -3.8 2.6 c0 1.6 1.2 2.8 2.8 2.8 c1.7 0 2.8 -1.2 2.8 -3.2 z" fill="#fff"/></g></svg></div></div></div></div><div class="col" style="left:2032px"><div class="ch"><span style="letter-spacing:1.65px;">Posted / Delivered</span></div><div class="cn">1</div><div class="cards"><div class="card"><div class="ti"><div><span style="letter-spacing:0.62px;">OTG Ice coffee demo</span></div></div><div class="tag" style="width:114px;background:#b3e3b9;color:#101410"><svg width="24" height="24" viewBox="0 0 24 24" style="display:block;"><rect x="3.1" y="3.5" width="9" height="7.2" rx="1.2" fill="#5b8361"/><rect x="18.3" y="7.9" width="5.2" height="7.5" rx="1.2" fill="#5b8361"/><rect x="0.3" y="12.9" width="4.6" height="4.3" rx="1.1" fill="#5b8361"/><circle cx="13" cy="10.4" r="3.5" fill="#050805"/><path d="M6.5 21.6 v-1.4 c0 -3.2 2.6 -4.9 6.4 -4.9 s6.4 1.7 6.4 4.9 v1.4 z" fill="#050805"/></svg><div class="t"><span style="letter-spacing:-0.30px;-webkit-text-stroke:0.6px #101410">UGC</span></div></div><div class="pill" style="width:248px"><div class="t"><span style="letter-spacing:0.87px;">Food &amp; Beverage</span></div></div><div class="box" style="width:245.6px"><div class="l"><span style="letter-spacing:0.63px;">Deadline</span></div><div class="d"><span style="letter-spacing:0.83px;">Overdue: Dec 24</span></div></div><div class="box v" style="width:149px"><div class="l"><span style="letter-spacing:0.33px;">Value</span></div><div class="d"><span style="letter-spacing:1.79px;">$500.00</span></div></div><div class="soc"><svg width="40" height="40" viewBox="0 0 40 40" style="display:block;"><defs><radialGradient id="iga17" gradientUnits="userSpaceOnUse" cx="13" cy="44" r="46"><stop offset="0" stop-color="#ffd84f"/><stop offset="0.2" stop-color="#f5cf50"/><stop offset="0.29" stop-color="#eeaa45"/><stop offset="0.4" stop-color="#e0683f"/><stop offset="0.53" stop-color="#dc5548"/><stop offset="0.67" stop-color="#da4468"/><stop offset="0.77" stop-color="#d8407e"/><stop offset="0.86" stop-color="#cf3cae"/><stop offset="0.98" stop-color="#bf38cc"/></radialGradient><radialGradient id="igb17" gradientUnits="userSpaceOnUse" cx="7" cy="2" r="28" gradientTransform="translate(7 2) scale(1 0.62) translate(-7 -2)"><stop offset="0" stop-color="#4f1ff0"/><stop offset="0.3" stop-color="#5a20ee"/><stop offset="1" stop-color="#8a2ae2" stop-opacity="0"/></radialGradient></defs><rect x="2.3" y="2.3" width="35.4" height="35.4" rx="10.2" fill="none" stroke="url(#iga17)" stroke-width="3.6"/><circle cx="20" cy="20" r="8.3" fill="none" stroke="url(#iga17)" stroke-width="3.6"/><circle cx="30.5" cy="9.5" r="2.4" fill="url(#iga17)"/><rect x="2.3" y="2.3" width="35.4" height="35.4" rx="10.2" fill="none" stroke="url(#igb17)" stroke-width="3.6"/><circle cx="20" cy="20" r="8.3" fill="none" stroke="url(#igb17)" stroke-width="3.6"/><circle cx="30.5" cy="9.5" r="2.4" fill="url(#igb17)"/></svg><svg width="40" height="40" viewBox="0 0 40 40" style="display:block;"><defs><clipPath id="fbc18"><circle cx="20" cy="20" r="20"/></clipPath></defs><circle cx="20" cy="20" r="20" fill="#2e67f4"/><g clip-path="url(#fbc18)"><text x="9.6" y="51.3" font-family="'Liberation Sans',sans-serif" font-weight="bold" font-size="60" fill="#fff">f</text></g></svg></div></div></div></div><div class="col" style="left:2532px"><div class="ch"><span style="letter-spacing:1.51px;">Paid</span></div><div class="cn">2</div><div class="cards"><div class="card"><div class="ti"><div><span style="letter-spacing:0.42px;">OTG Salad for Whole Foods</span></div></div><div class="tag" style="width:265px;background:#6b63f6;color:#ffffff"><svg width="24" height="24" viewBox="0 0 24 24" style="display:block;"><rect x="0.9" y="6.6" width="8.6" height="8.6" rx="1.8" fill="#fff"/><path d="M8.2 6.7 L18.6 0.7 q1.6 -0.8 1.6 1 V20 q0 1.8 -1.6 1 L8.2 15.1 z" fill="#fff"/><path d="M8.5 6.6 v8.6" stroke="#6b63f6" stroke-width="0.9" opacity="0.55"/><rect x="20.6" y="8.7" width="2.6" height="4.4" rx="1.3" fill="#fff"/><path d="M3.4 15.6 h5.8 l0.8 5.4 q0.2 1.4 -1.2 1.4 h-2.6 q-1.2 0 -1.5 -1.2 z" fill="#fff"/></svg><div class="t"><span style="letter-spacing:1.16px;-webkit-text-stroke:0.6px #ffffff">Paid Collaboration</span></div></div><div class="pill" style="width:248px"><div class="t"><span style="letter-spacing:0.87px;">Food &amp; Beverage</span></div></div><div class="box" style="width:245.6px"><div class="l"><span style="letter-spacing:0.63px;">Deadline</span></div><div class="d"><span style="letter-spacing:0.83px;">Overdue: Dec 26</span></div></div><div class="box v" style="width:145px"><div class="l"><span style="letter-spacing:0.33px;">Value</span></div><div class="d"><span style="letter-spacing:1.12px;">$120.00</span></div></div><div class="soc"><svg width="40" height="40" viewBox="0 0 40 40" style="display:block;"><circle cx="20" cy="20" r="20" fill="#000"/><g transform="translate(20.1 19.7) scale(1.14) translate(-21.3 -20.4)"><path d="M21.6 9.2 h4.1 c0.3 3.0 2.0 4.9 4.9 5.2 v4.0 c-1.8 0 -3.4 -0.5 -4.8 -1.5 v7.6 c0 4.3 -3.1 7.1 -6.9 7.1 c-3.9 0 -6.9 -3.0 -6.9 -6.8 c0 -4.2 3.6 -7.3 7.9 -6.7 v4.2 c-2.0 -0.6 -3.8 0.7 -3.8 2.6 c0 1.6 1.2 2.8 2.8 2.8 c1.7 0 2.8 -1.2 2.8 -3.2 z" fill="#25f4ee" transform="translate(-1.0,-0.85)"/><path d="M21.6 9.2 h4.1 c0.3 3.0 2.0 4.9 4.9 5.2 v4.0 c-1.8 0 -3.4 -0.5 -4.8 -1.5 v7.6 c0 4.3 -3.1 7.1 -6.9 7.1 c-3.9 0 -6.9 -3.0 -6.9 -6.8 c0 -4.2 3.6 -7.3 7.9 -6.7 v4.2 c-2.0 -0.6 -3.8 0.7 -3.8 2.6 c0 1.6 1.2 2.8 2.8 2.8 c1.7 0 2.8 -1.2 2.8 -3.2 z" fill="#fe2c55" transform="translate(1.0,0.85)"/><path d="M21.6 9.2 h4.1 c0.3 3.0 2.0 4.9 4.9 5.2 v4.0 c-1.8 0 -3.4 -0.5 -4.8 -1.5 v7.6 c0 4.3 -3.1 7.1 -6.9 7.1 c-3.9 0 -6.9 -3.0 -6.9 -6.8 c0 -4.2 3.6 -7.3 7.9 -6.7 v4.2 c-2.0 -0.6 -3.8 0.7 -3.8 2.6 c0 1.6 1.2 2.8 2.8 2.8 c1.7 0 2.8 -1.2 2.8 -3.2 z" fill="#fff"/></g></svg></div></div><div class="card"><div class="ti"><div><span style="letter-spacing:0.87px;">Summer sandals collab</span></div></div><div class="tag" style="width:265px;background:#6b63f6;color:#ffffff"><svg width="24" height="24" viewBox="0 0 24 24" style="display:block;"><rect x="0.9" y="6.6" width="8.6" height="8.6" rx="1.8" fill="#fff"/><path d="M8.2 6.7 L18.6 0.7 q1.6 -0.8 1.6 1 V20 q0 1.8 -1.6 1 L8.2 15.1 z" fill="#fff"/><path d="M8.5 6.6 v8.6" stroke="#6b63f6" stroke-width="0.9" opacity="0.55"/><rect x="20.6" y="8.7" width="2.6" height="4.4" rx="1.3" fill="#fff"/><path d="M3.4 15.6 h5.8 l0.8 5.4 q0.2 1.4 -1.2 1.4 h-2.6 q-1.2 0 -1.5 -1.2 z" fill="#fff"/></svg><div class="t"><span style="letter-spacing:1.16px;-webkit-text-stroke:0.6px #ffffff">Paid Collaboration</span></div></div><div class="pill" style="width:139px"><div class="t"><span style="letter-spacing:1.03px;">Fashion</span></div></div><div class="box" style="width:242.9px"><div class="l"><span style="letter-spacing:0.63px;">Deadline</span></div><div class="d"><span style="letter-spacing:0.64px;">Overdue: Dec 18</span></div></div><div class="box v" style="width:149px"><div class="l"><span style="letter-spacing:0.33px;">Value</span></div><div class="d"><span style="letter-spacing:1.79px;">$300.00</span></div></div><div class="soc"><svg width="40" height="40" viewBox="0 0 40 40" style="display:block;"><circle cx="20" cy="20" r="18.5" fill="#6b63f6"/><path d="M15.4 12.6 L28.2 20 L15.4 27.4 Z" fill="#fff" stroke="#fff" stroke-width="1.2" stroke-linejoin="round"/></svg></div></div></div></div></div>
<div class="edge"></div>
</div>
<script>(function(){var w=window.innerWidth;if(w&&Math.abs(w-3456)>2){var s=w/3456,r=document.getElementById('root'),d=document.documentElement,b=document.body;r.style.transform='scale('+s+')';d.style.width=b.style.width=w+'px';d.style.height=b.style.height=(2168*s)+'px';}})();</script>
</body></html>
